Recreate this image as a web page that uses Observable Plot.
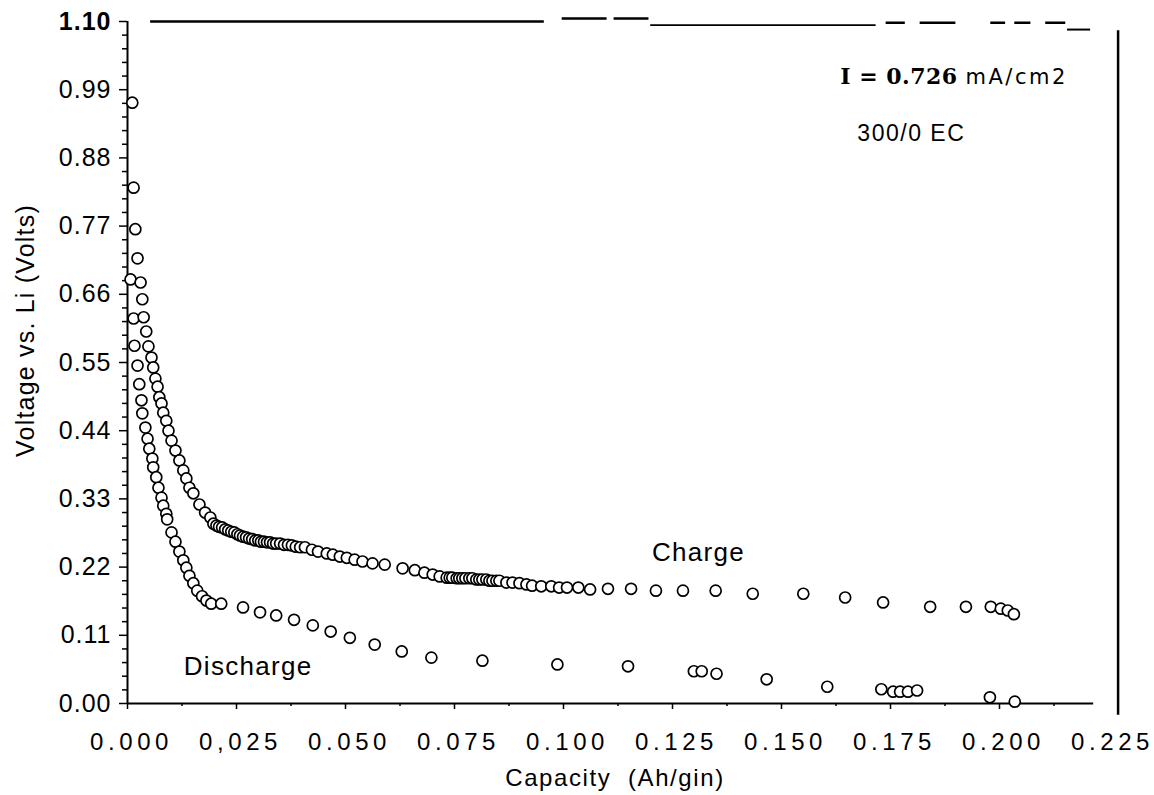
<!DOCTYPE html>
<html><head><meta charset="utf-8">
<script src="https://cdn.jsdelivr.net/npm/d3@7"></script>
<script src="https://cdn.jsdelivr.net/npm/@observablehq/plot@0.6"></script>
<style>
body{margin:0;background:#fff;}
#chart svg{display:block;}
#chart text{white-space:pre;}
</style></head><body><div id="chart"></div>
<script>
// Charge curve (upper / outer) — capacity (Ah/g) and voltage (V)
const chargeCap = [0.0011,0.0014,0.0018,0.0023,0.0030,0.0034,0.0037,0.0043,0.0048,0.0055,0.0059,0.0064,0.0069,0.0073,0.0078,0.0082,0.0089,0.0094,0.0101,0.0110,0.0119,0.0128,0.0135,0.0142,0.0151,0.0165,0.0178,0.0190,0.0197,0.0204,0.0210,0.0217,0.0224,0.0231,0.0238,0.0245,0.0252,0.0258,0.0265,0.0272,0.0279,0.0286,0.0293,0.0300,0.0306,0.0313,0.0320,0.0327,0.0334,0.0341,0.0350,0.0359,0.0368,0.0377,0.0386,0.0396,0.0407,0.0423,0.0437,0.0457,0.0471,0.0487,0.0503,0.0521,0.0539,0.0562,0.0590,0.0631,0.0659,0.0681,0.0700,0.0716,0.0732,0.0739,0.0745,0.0755,0.0761,0.0768,0.0775,0.0784,0.0791,0.0800,0.0807,0.0814,0.0823,0.0830,0.0837,0.0846,0.0853,0.0869,0.0883,0.0899,0.0915,0.0928,0.0949,0.0972,0.0990,0.1008,0.1034,0.1061,0.1102,0.1155,0.1212,0.1274,0.1349,0.1434,0.1550,0.1646,0.1733,0.1841,0.1923,0.1980,0.2003,0.2019,0.2033];
const chargeV = [0.969,0.832,0.765,0.718,0.679,0.652,0.623,0.600,0.576,0.558,0.542,0.524,0.511,0.494,0.484,0.469,0.456,0.440,0.424,0.408,0.392,0.376,0.363,0.348,0.339,0.321,0.308,0.300,0.290,0.287,0.285,0.284,0.281,0.279,0.277,0.276,0.273,0.271,0.269,0.268,0.266,0.265,0.263,0.263,0.261,0.261,0.260,0.260,0.258,0.258,0.258,0.256,0.256,0.255,0.253,0.252,0.252,0.248,0.245,0.242,0.240,0.237,0.235,0.232,0.229,0.226,0.224,0.218,0.215,0.211,0.208,0.205,0.203,0.203,0.203,0.202,0.202,0.202,0.202,0.202,0.202,0.200,0.200,0.200,0.200,0.198,0.198,0.198,0.198,0.195,0.195,0.194,0.192,0.190,0.189,0.189,0.187,0.187,0.187,0.184,0.185,0.185,0.182,0.182,0.182,0.177,0.177,0.171,0.163,0.156,0.156,0.156,0.153,0.150,0.144];

// Discharge curve (lower / inner)
const dischargeCap = [0.0007,0.0014,0.0016,0.0023,0.0027,0.0032,0.0034,0.0041,0.0046,0.0050,0.0057,0.0059,0.0066,0.0071,0.0078,0.0082,0.0089,0.0091,0.0101,0.0110,0.0119,0.0128,0.0135,0.0142,0.0151,0.0160,0.0171,0.0181,0.0192,0.0215,0.0265,0.0304,0.0341,0.0382,0.0425,0.0466,0.0510,0.0567,0.0629,0.0697,0.0814,0.0986,0.1148,0.1299,0.1317,0.1351,0.1466,0.1605,0.1729,0.1756,0.1772,0.1790,0.1811,0.1978,0.2035];
const dischargeV = [0.684,0.621,0.577,0.545,0.515,0.489,0.468,0.445,0.427,0.411,0.395,0.381,0.365,0.348,0.332,0.319,0.306,0.297,0.276,0.261,0.245,0.231,0.219,0.206,0.194,0.182,0.173,0.166,0.161,0.161,0.155,0.147,0.142,0.135,0.126,0.116,0.106,0.095,0.084,0.074,0.069,0.063,0.060,0.052,0.052,0.048,0.039,0.027,0.023,0.019,0.019,0.019,0.021,0.010,0.003];

// Axis ticks and labels
const yTicks = [0, 0.11, 0.22, 0.33, 0.44, 0.55, 0.66, 0.77, 0.88, 0.99, 1.10];
const yTickLabels = ["0.00","0.11","0.22","0.33","0.44","0.55","0.66","0.77","0.88","0.99","1.10"];
const xTicks = [0, 0.025, 0.05, 0.075, 0.1, 0.125, 0.15, 0.175, 0.2, 0.225];
const xTickLabels = ["0.000","0,025","0.050","0.075","0.100","0.125","0.150","0.175","0.200","0.225"];

// Text labels
const curveLabels = ["Charge", "Discharge"];
const curveLabelCap = [0.1203, 0.0129];
const curveLabelV = [0.2306, 0.0452];

// Scanned frame border pieces (top) and right edge
const topBorderX1 = [0.0053, 0.0997, 0.1116, 0.1200, 0.1740, 0.1818, 0.1980, 0.2035, 0.2106, 0.2156];
const topBorderX2 = [0.0956, 0.1100, 0.1196, 0.1717, 0.1784, 0.1900, 0.2014, 0.2072, 0.2152, 0.2209];
const topBorderY  = [1.100, 1.105, 1.105, 1.094, 1.098, 1.098, 1.098, 1.098, 1.098, 1.087];
const topBorderW  = [2.5, 2.5, 2.5, 1.8, 2.5, 2.5, 2.5, 2.5, 2.5, 2];

const charge = chargeCap.map((c, i) => ({cap: c, v: chargeV[i]}));
const discharge = dischargeCap.map((c, i) => ({cap: c, v: dischargeV[i]}));
const labels = curveLabels.map((t, i) => ({text: t, cap: curveLabelCap[i], v: curveLabelV[i]}));
const topBorder = topBorderX1.map((x1, i) => ({x1, x2: topBorderX2[i], y: topBorderY[i], w: topBorderW[i]}));

const yMinor = d3.range(0, 51).map(i => +(i * 0.022).toFixed(3)).filter(d => Math.abs(d / 0.11 - Math.round(d / 0.11)) > 1e-6);
const xMinor = xTicks.slice(0, -1).map(d => d + 0.0125);
const xMajorMarks = xTicks.slice(0, -1);

const sans = "'Liberation Sans', Arial, Helvetica, sans-serif";

const chart = Plot.plot({
  width: 1154, height: 795,
  marginLeft: 127, marginRight: 46, marginTop: 21, marginBottom: 92,
  x: {domain: [0, 0.225], label: null},
  y: {domain: [0, 1.1], label: null},
  style: {fontFamily: sans, background: "#fff", color: "#000", overflow: "visible"},
  marks: [
    Plot.ruleX([0], {y1: 0, y2: 1.1, stroke: "#000", strokeWidth: 2}),
    Plot.ruleY([0], {x1: 0, x2: 0.2216, stroke: "#000", strokeWidth: 2}),
    Plot.ruleY(topBorder, {y: "y", x1: "x1", x2: "x2", strokeWidth: "w", stroke: "#000"}),
    Plot.ruleX([0.2272], {y1: -0.019, y2: 1.085, stroke: "#000", strokeWidth: 2.5}),
    Plot.axisY(yMinor, {tickSize: 5, tickFormat: () => "", label: null, strokeWidth: 1.5}),
    Plot.axisY(yTicks.slice(0, -1), {tickSize: 8, tickPadding: 8, label: null, strokeWidth: 1.5,
      tickFormat: d => yTickLabels[yTicks.indexOf(d)], fontSize: 25}),
    Plot.axisY([1.1], {tickSize: 8, tickPadding: 8, label: null, strokeWidth: 1.5,
      tickFormat: d => yTickLabels[yTicks.indexOf(d)], fontSize: 25, fontWeight: "bold"}),
    Plot.axisX(xMinor, {tickSize: 3, tickFormat: () => "", label: null, strokeWidth: 1.5}),
    Plot.axisX(xMajorMarks, {tickSize: 6, tickFormat: () => "", label: null, strokeWidth: 1.5}),
    Plot.axisX(xTicks, {tickSize: 0, tickPadding: 29, label: null, dx: 4,
      tickFormat: d => xTickLabels[xTicks.indexOf(d)], fontSize: 24}),
    Plot.dot(discharge, {x: "cap", y: "v", r: 5.5, fill: "#fff", stroke: "#000", strokeWidth: 1.7}),
    Plot.dot(charge, {x: "cap", y: "v", r: 5.5, fill: "#fff", stroke: "#000", strokeWidth: 1.7}),
    Plot.text(labels, {x: "cap", y: "v", text: "text", textAnchor: "start", lineAnchor: "bottom", fontSize: 26}),
    Plot.text(["I = 0.726"], {x: () => 0.1904, y: () => 1.0, textAnchor: "end", lineAnchor: "bottom",
      fontFamily: "'DejaVu Serif', serif", fontWeight: "bold", fontSize: 22}),
    Plot.text(["mA/cm2"], {x: () => 0.1922, y: () => 1.0, textAnchor: "start", lineAnchor: "bottom",
      fontFamily: "'DejaVu Sans', sans-serif", fontSize: 21}),
    Plot.text(["300/0 EC"], {x: () => 0.1674, y: () => 0.908, textAnchor: "start", lineAnchor: "bottom", fontSize: 23}),
    Plot.text(["Capacity  (Ah/gin)"], {frameAnchor: "bottom", dy: 82, dx: -3, textAnchor: "middle", lineAnchor: "bottom", fontSize: 24}),
    Plot.text(["Voltage vs. Li (Volts)"], {frameAnchor: "left", rotate: -90, dx: -102, dy: -32, textAnchor: "middle", lineAnchor: "middle", fontSize: 25})
  ]
});

const spacing = {"Charge": "1.3px", "Discharge": "1.3px", "mA/cm2": "2.5px", "300/0 EC": "1.5px",
  "Capacity  (Ah/gin)": "1.6px", "Voltage vs. Li (Volts)": "1.2px", "I = 0.726": "0.5px"};
d3.select(chart).selectAll("text").each(function() {
  const t = this.textContent;
  if (xTickLabels.includes(t)) this.style.letterSpacing = "4.6px";
  else if (yTickLabels.includes(t)) {
    this.style.letterSpacing = "1px";
    if (t === "1.10") this.style.fontWeight = "bold";
  } else if (spacing[t]) this.style.letterSpacing = spacing[t];
});
document.getElementById("chart").appendChild(chart);
</script></body></html>
